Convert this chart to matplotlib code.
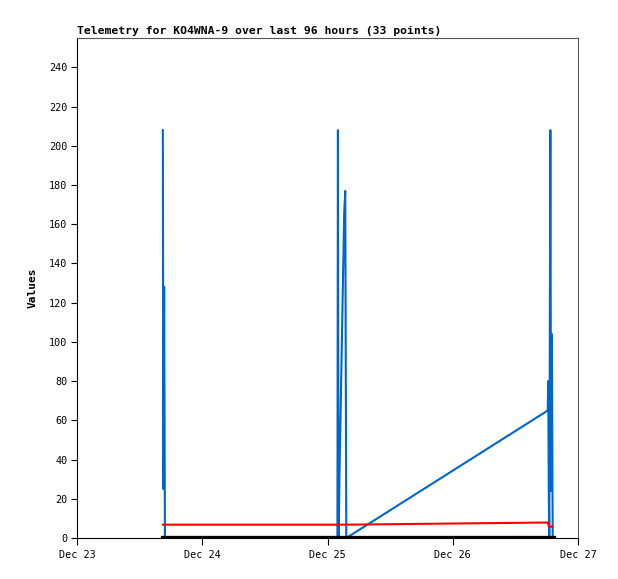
import matplotlib
matplotlib.use("Agg")
import matplotlib.pyplot as plt
import matplotlib.dates as mdates
from datetime import datetime, timedelta

# hours after Dec 23 00:00 for each telemetry point
heures = [16.45, 16.55, 16.70, 16.85, 16.95, 20.0, 24.0, 30.0, 36.0, 42.0, 46.0, 49.0,
          49.90, 50.00, 50.10, 50.20, 50.30, 50.45, 50.60, 50.75, 50.90, 51.05, 51.20, 51.40, 51.60,
          90.20, 90.30, 90.40, 90.50, 90.70, 90.85, 91.00, 91.15]
bleu = [208, 25, 128, 0, 0, 0, 0, 0, 0, 0, 0, 0,
        0, 208, 0, 11, 33, 55, 77, 100, 122, 144, 166, 177, 0,
        65, 80, 24, 0, 208, 24, 104, 0]
rouge = [6.8, 6.8, 6.8, 6.8, 6.8, 6.8, 6.8, 6.8, 6.8, 6.8, 6.8, 6.8,
         6.8, 6.8, 6.8, 6.8, 6.8, 6.8, 6.8, 6.8, 6.8, 6.8, 6.8, 6.8, 6.8,
         7.9, 7.9, 5.8, 5.8, 5.8, 5.8, 5.8, 5.8]
noir = [0] * 33

debut = datetime(2023, 12, 23)
dates = [debut + timedelta(hours=h) for h in heures]

fig = plt.figure(figsize=(6.18, 5.79), dpi=100)
ax = fig.add_axes([77 / 618, 41 / 579, 501 / 618, 500 / 579])

ax.plot(dates, bleu, color="#0066cc", linewidth=1.5)
ax.plot(dates, rouge, color="#ff0000", linewidth=1.5)
ax.plot(dates, noir, color="black", linewidth=3.8)

ax.set_xlim(debut, debut + timedelta(days=4))
ax.set_ylim(0, 255)
ax.set_yticks(range(0, 241, 20))
ax.xaxis.set_major_locator(mdates.DayLocator())
ax.xaxis.set_major_formatter(mdates.DateFormatter("%b %d"))

for cote in ["top", "right"]:
    ax.spines[cote].set_color("#555555")
ax.spines["left"].set_color("black")
ax.spines["bottom"].set_color("black")
for s in ax.spines.values():
    s.set_linewidth(0.8)

ax.tick_params(axis="x", length=5, width=0.8, labelsize=7.3, pad=4)
ax.tick_params(axis="y", length=4, width=0.8, labelsize=7.3, pad=3)
for lab in ax.get_xticklabels() + ax.get_yticklabels():
    lab.set_family("DejaVu Sans Mono")

ax.set_title("Telemetry for KO4WNA-9 over last 96 hours (33 points)", loc="left",
             fontsize=8.2, fontweight="bold", family="DejaVu Sans Mono", pad=3)
ax.set_ylabel("Values", fontsize=8, fontweight="bold", family="DejaVu Sans Mono", labelpad=8)

fig.savefig("out.png", dpi=100)
